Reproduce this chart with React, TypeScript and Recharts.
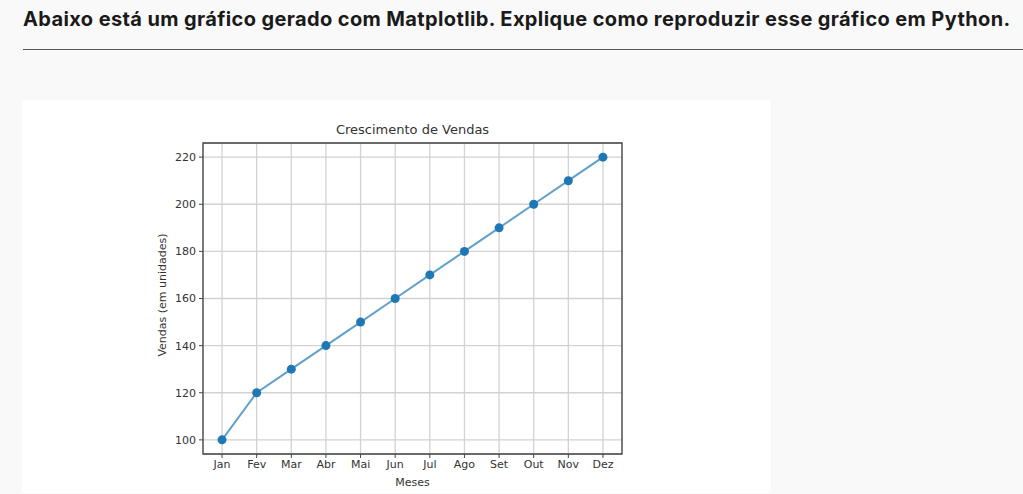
import { LineChart, Line, XAxis, YAxis, CartesianGrid, ReferenceArea } from 'recharts'

const months = ['Jan', 'Fev', 'Mar', 'Abr', 'Mai', 'Jun', 'Jul', 'Ago', 'Set', 'Out', 'Nov', 'Dez']
const sales = [100, 120, 130, 140, 150, 160, 170, 180, 190, 200, 210, 220]
const yTicks = [100, 120, 140, 160, 180, 200, 220]

const data = months.map((m, i) => ({ idx: i, month: m, vendas: sales[i] }))
const xTicks = months.map((_, i) => i)

const font = '"DejaVu Sans", sans-serif'
const textColor = '#333'

export default function App() {
  return (
    <div style={{ position: 'absolute', left: 0, top: 0, width: 1023, height: 494, background: '#f9f9f9', overflow: 'hidden' }}>
      <div
        style={{
          position: 'absolute',
          left: 23,
          top: 7,
          fontFamily: 'Inter, sans-serif',
          fontWeight: 700,
          fontSize: 20,
          letterSpacing: 0.38,
          color: '#1a1a1a',
          whiteSpace: 'nowrap',
        }}
      >
        Abaixo está um gráfico gerado com Matplotlib. Explique como reproduzir esse gráfico em Python.
      </div>
      <div style={{ position: 'absolute', left: 23, top: 49, width: 1000, height: 1, background: '#555' }} />

      <div style={{ position: 'absolute', left: 22, top: 100, width: 749, height: 393, background: '#fff' }}>
        <div style={{ position: 'absolute', left: 181, width: 419, top: 22, textAlign: 'center', fontFamily: font, fontSize: 13, color: textColor }}>
          Crescimento de Vendas
        </div>
        <div style={{ position: 'absolute', left: 181, width: 419, top: 376, textAlign: 'center', fontFamily: font, fontSize: 11, color: textColor }}>
          Meses
        </div>
        <div
          style={{
            position: 'absolute',
            left: 140,
            top: 195,
            width: 0,
            height: 0,
          }}
        >
          <div
            style={{
              position: 'absolute',
              transform: 'translate(-50%, -50%) rotate(-90deg)',
              whiteSpace: 'nowrap',
              fontFamily: font,
              fontSize: 11,
              color: textColor,
            }}
          >
            Vendas (em unidades)
          </div>
        </div>

        <LineChart width={749} height={393} data={data} margin={{ top: 43, right: 149, left: 121, bottom: 9 }}>
          <CartesianGrid stroke="#d2d2d2" strokeWidth={1.3} />
          <XAxis
            type="number"
            dataKey="idx"
            domain={[-0.55, 11.55]}
            ticks={xTicks}
            tickFormatter={(i: number) => months[i]}
            interval={0}
            allowDataOverflow
            height={30}
            tickSize={4}
            tickMargin={2}
            axisLine={false}
            tickLine={{ stroke: '#444' }}
            tick={{ fill: textColor, fontFamily: font, fontSize: 11 }}
          />
          <YAxis
            type="number"
            domain={[94, 226]}
            ticks={yTicks}
            allowDataOverflow
            width={60}
            tickSize={4}
            tickMargin={3}
            axisLine={false}
            tickLine={{ stroke: '#444' }}
            tick={{ fill: textColor, fontFamily: font, fontSize: 11 }}
          />
          <ReferenceArea x1={-0.55} x2={11.55} y1={94} y2={226} fill="none" stroke="#444" strokeWidth={1.3} strokeOpacity={1} fillOpacity={0} />
          <Line
            type="linear"
            dataKey="vendas"
            stroke="#1f77b4"
            strokeOpacity={0.7}
            strokeWidth={2}
            dot={{ fill: '#1f77b4', stroke: '#1f77b4', strokeWidth: 0, r: 4.5 }}
            activeDot={false}
            isAnimationActive={false}
          />
        </LineChart>
      </div>
    </div>
  )
}
